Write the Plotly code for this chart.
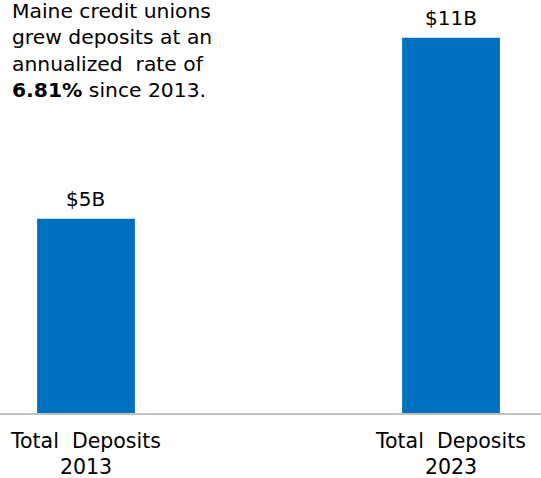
import plotly.graph_objects as go

categories = ["Total\u00a0 Deposits<br>2013", "Total\u00a0 Deposits<br>2023"]
deposits_billions = [5.5, 10.63]
bar_labels = ["$5B", "$11B"]
note_text = "Maine credit unions<br>grew deposits at an<br>annualized\u00a0 rate of<br><b>6.81%</b> since 2013."

xpos = list(range(len(categories)))
FONT = "DejaVu Sans, Arial, sans-serif"

fig = go.Figure()
fig.add_trace(go.Bar(
    x=xpos, y=deposits_billions, width=0.268,
    marker=dict(color="#0070C0", line=dict(width=0)),
    hoverinfo="skip",
))

annotations = [dict(
    text=note_text, xref="paper", yref="paper", x=0.0185, y=1.0, yshift=3,
    xanchor="left", yanchor="top", align="left", showarrow=False,
    font=dict(family=FONT, size=20.3, color="#000000"),
)]
for xi, val, lab in zip(xpos, deposits_billions, bar_labels):
    annotations.append(dict(
        text=lab, x=xi, y=val, xref="x", yref="y", xanchor="center", yanchor="bottom",
        yshift=6, showarrow=False,
        font=dict(family=FONT, size=20, color="#000000"),
    ))

fig.update_layout(
    width=541, height=478,
    margin=dict(l=0, r=0, t=0, b=64.5),
    paper_bgcolor="white", plot_bgcolor="white",
    showlegend=False,
    xaxis=dict(
        range=[-0.2356, 1.2466], tickvals=xpos, ticktext=categories,
        showgrid=False, zeroline=False, showline=True, linecolor="#C0C0C0", linewidth=2,
        ticks="outside", ticklen=8, tickcolor="rgba(0,0,0,0)",
        tickfont=dict(family=FONT, size=20.5, color="#000000"),
        automargin=False, fixedrange=True,
    ),
    yaxis=dict(range=[0, 11.70], visible=False, fixedrange=True, automargin=False),
    annotations=annotations,
)

fig.write_html("out.html", config={"displayModeBar": False},
               post_script="document.body.style.margin='0';document.body.style.overflow='hidden';")
